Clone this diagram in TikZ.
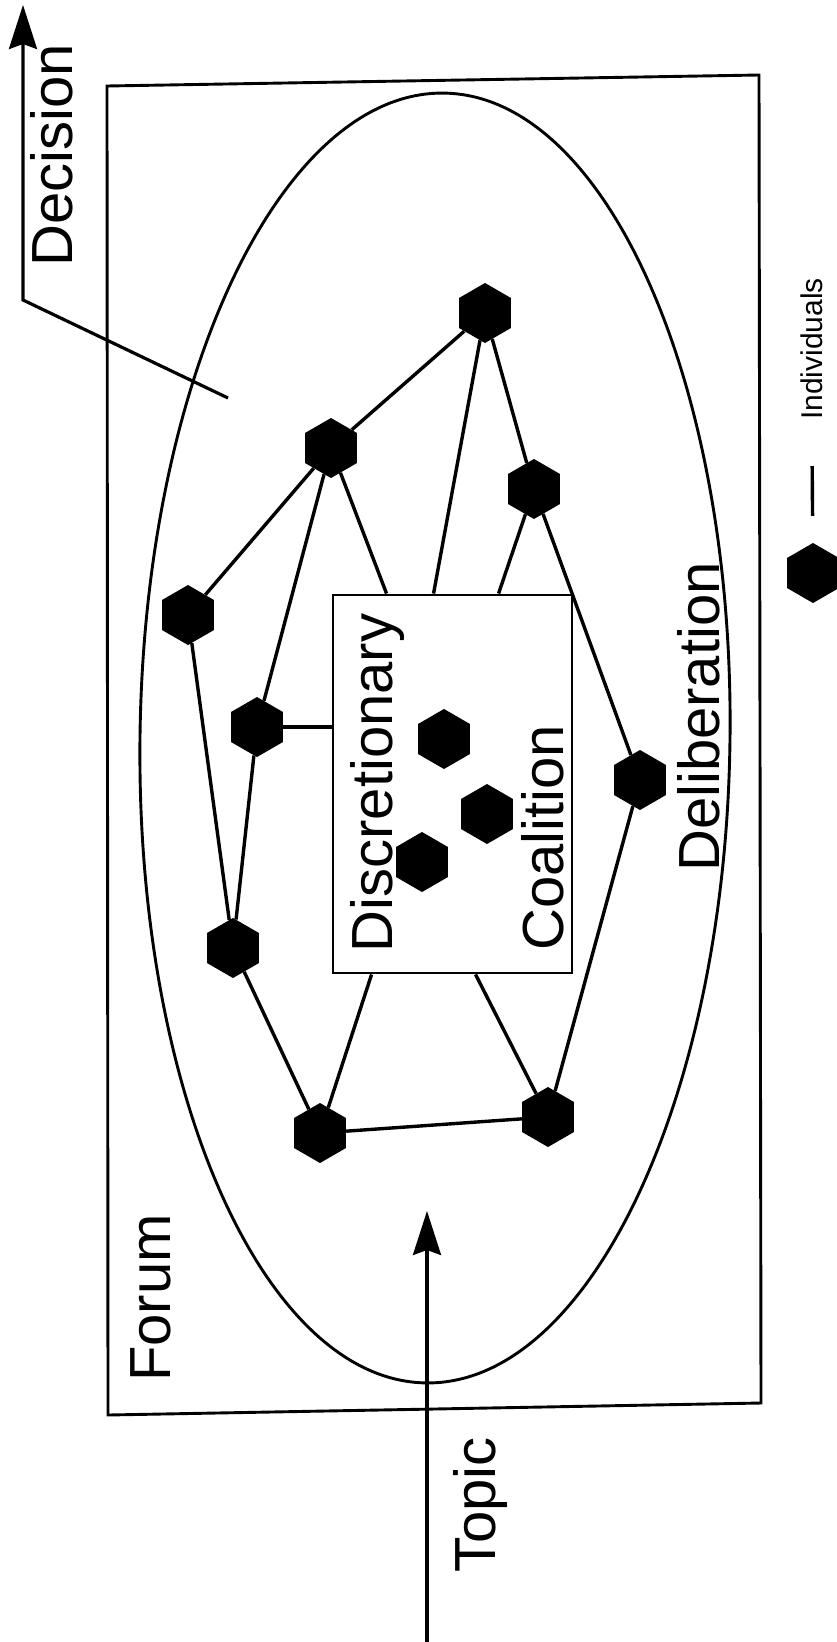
\documentclass[tikz,border=0pt]{standalone}
\usepackage{fontspec}
\setmainfont{Liberation Sans}
\usetikzlibrary{shapes.geometric,arrows.meta}
\begin{document}
\begin{tikzpicture}[x=1pt,y=-1pt,
hexnode/.style={regular polygon, regular polygon sides=6, shape border rotate=30, fill=black, inner sep=0pt, minimum size=60pt},
labelnode/.style={rotate=90, anchor=base, inner sep=0pt, font=\fontsize{58}{60}\selectfont},
link/.style={line width=3.4pt},
frame/.style={line width=2.9pt},
flow/.style={line width=3.2pt, -{Stealth[length=44pt, width=28pt, inset=5pt]}},
]
    \useasboundingbox (0,0) rectangle (836,1642);
    % forum and deliberation
    \draw[frame] (107,86) -- (759,75) -- (761,1403) -- (108,1415) -- cycle;
    \draw[frame, rotate around={-0.8:(435,738)}] (435,738) ellipse [x radius=295, y radius=645];
    \node[draw, frame, minimum width=239pt, minimum height=378pt, inner sep=0pt](box) at (452.5,784) {};
    % individuals
    \node[hexnode](H1) at (485,313) {};
    \node[hexnode](H2) at (331,448) {};
    \node[hexnode](H3) at (534,489) {};
    \node[hexnode](H4) at (188,615) {};
    \node[hexnode](H5) at (257,727) {};
    \node[hexnode](H6) at (640,780) {};
    \node[hexnode](H7) at (233,948) {};
    \node[hexnode](H8) at (320,1133) {};
    \node[hexnode](H9) at (548,1117) {};
    \node[hexnode](C1) at (444,739) {};
    \node[hexnode](C2) at (487,814) {};
    \node[hexnode](C3) at (422,862) {};
    % where the links meet the coalition
    \coordinate (b1) at ([xshift=102pt]box.north west);
    \coordinate (b2) at ([xshift=55pt]box.north west);
    \coordinate (b3) at ([xshift=167pt]box.north west);
    \coordinate (b8) at ([xshift=40pt]box.south west);
    \coordinate (b9) at ([xshift=144pt]box.south west);
    \draw[link] (H1) -- (H2);
    \draw[link] (H1) -- (H3);
    \draw[link] (H1) -- (b1);
    \draw[link] (H2) -- (H4);
    \draw[link] (H2) -- (H5);
    \draw[link] (H2) -- (b2);
    \draw[link] (H3) -- (H6);
    \draw[link] (H3) -- (b3);
    \draw[link] (H4) -- (H7);
    \draw[link] (H5) -- (H7);
    \draw[link] (H5) -- (H5 -| box.west);
    \draw[link] (H7) -- (H8);
    \draw[link] (H8) -- (H9);
    \draw[link] (H8) -- (b8);
    \draw[link] (H9) -- (b9);
    \draw[link] (H9) -- (H6);
    % labels
    \node[labelnode](decision) at (72,155) {Decision};
    \node[labelnode](forum) at (170,1298) {Forum};
    \node[labelnode](topic) at (495,1505) {Topic};
    \node[labelnode](discretionary) at (392,783) {Discretionary};
    \node[labelnode](coalition) at (563,838) {Coalition};
    \node[labelnode](deliberation) at (719,717) {Deliberation};
    % topic in, decision out
    \coordinate (topicstart) at (427,1642);
    \coordinate (topicend) at (427,1211);
    \draw[flow] (topicstart) -- (topicend);
    \coordinate (decstart) at (228,398);
    \coordinate (deccorner) at (23,300);
    \coordinate (decend) at (23,5);
    \draw[flow] (decstart) -- (deccorner) -- (decend);
    % legend
    \node[hexnode](leghex) at (813,573) {};
    \node[labelnode, font=\fontsize{30}{32}\selectfont](legtext) at (822,349) {Individuals};
    \draw[link, shorten <=27pt, shorten >=46pt] (leghex) -- (legtext);
\end{tikzpicture}
\end{document}
